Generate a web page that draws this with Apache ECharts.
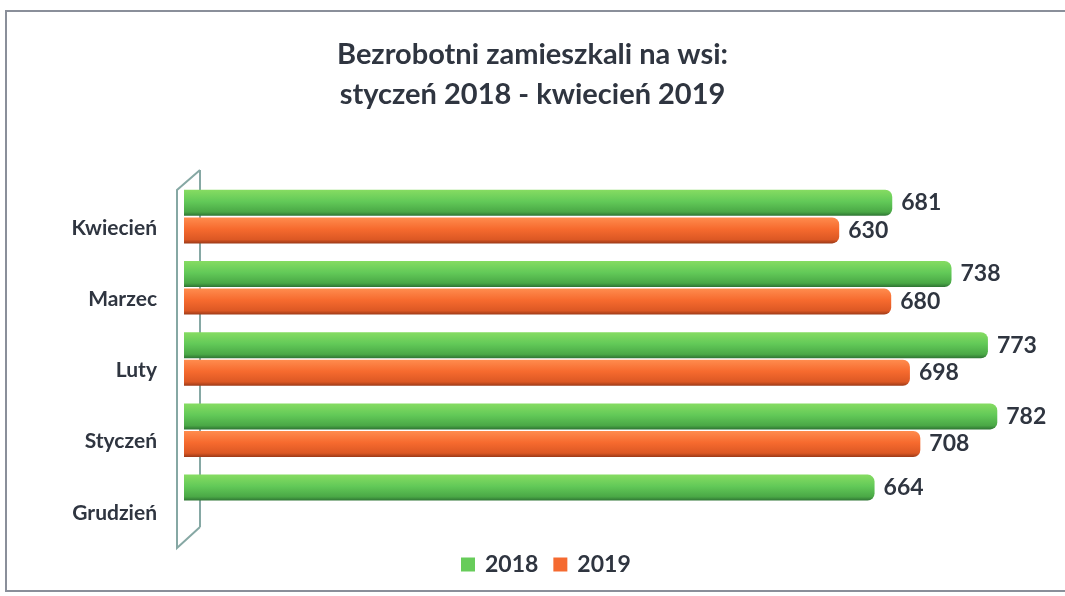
<!DOCTYPE html>
<html>
<head>
<meta charset="utf-8">
<script src="https://cdn.jsdelivr.net/npm/echarts@6/dist/echarts.min.js"></script>
<style>
  html, body { margin: 0; padding: 0; background: #fff; }
  #main { width: 1065px; height: 596px; }
</style>
</head>
<body>
<div id="main"></div>
<script>
// dane z wykresu
const months = ['Kwiecień', 'Marzec', 'Luty', 'Styczeń', 'Grudzień'];
const v2018 = [681, 738, 773, 782, 664];
const v2019 = [630, 680, 698, 708, null];
const seriesNames = ['2018', '2019'];

const chart = echarts.init(document.getElementById('main'));

// cylinder look
function tube(light, mid, dark, edge) {
  return new echarts.graphic.LinearGradient(0, 0, 0, 1, [
    { offset: 0, color: light },
    { offset: 0.45, color: mid },
    { offset: 0.85, color: dark },
    { offset: 1, color: edge }
  ]);
}

const labelStyle = {
  show: true,
  position: 'right',
  distance: 9,
  fontFamily: 'Lato',
  fontWeight: 'bold',
  fontSize: 23,
  color: '#2f3540'
};

const option = {
  backgroundColor: '#fff',
  title: {
    text: 'Bezrobotni zamieszkali na wsi:\nstyczeń 2018 - kwiecień 2019',
    left: 'center',
    top: 30,
    textStyle: {
      fontFamily: 'Lato',
      fontWeight: 'bold',
      fontSize: 29,
      lineHeight: 40,
      color: '#2f3540'
    }
  },
  legend: {
    top: 548,
    left: 456,
    icon: 'rect',
    itemWidth: 14,
    itemHeight: 14,
    itemGap: 15,
    textStyle: { fontFamily: 'Lato', fontWeight: 'bold', fontSize: 23, color: '#2f3540', padding: [0, 0, 0, 5] },
    data: [
      { name: seriesNames[0], itemStyle: { color: '#67cc5a' } },
      { name: seriesNames[1], itemStyle: { color: '#f56a30' } }
    ]
  },
  grid: { left: 184, top: 181, width: 832, height: 356 },
  xAxis: {
    type: 'value',
    min: 0,
    max: 800,
    show: false
  },
  yAxis: {
    type: 'category',
    inverse: true,
    data: months,
    axisLine: { show: false },
    axisTick: { show: false },
    axisLabel: {
      margin: 27,
      formatter: function (v) { return '\n' + v; },
      lineHeight: 23,
      fontFamily: 'Lato',
      fontWeight: 'bold',
      fontSize: 21,
      color: '#2f3540'
    }
  },
  graphic: [
    { type: 'polyline', z: 0, shape: { points: [[1100, 11], [6, 11], [6, 591], [1100, 591]] },
      style: { fill: 'none', stroke: '#8a8f9a', lineWidth: 2 } },
    { type: 'polyline', z: 0, shape: { points: [[200, 170], [177, 190], [177, 548], [200, 527]] },
      style: { fill: 'none', stroke: '#86a8a4', lineWidth: 2 } },
    { type: 'line', z: 0, shape: { x1: 200, y1: 170, x2: 200, y2: 527 },
      style: { stroke: '#86a8a4', lineWidth: 2 } }
  ],
  series: [
    {
      name: seriesNames[0],
      type: 'bar',
      data: v2018,
      barWidth: 26,
      barGap: '6%',
      itemStyle: {
        color: tube('#86dc62', '#62c958', '#4aa846', '#2e7433'),
        borderRadius: [0, 7, 7, 0]
      },
      label: labelStyle
    },
    {
      name: seriesNames[1],
      type: 'bar',
      data: v2019,
      barWidth: 26,
      itemStyle: {
        color: tube('#ff8c4e', '#f66a2e', '#dc5824', '#9c3a18'),
        borderRadius: [0, 7, 7, 0]
      },
      label: labelStyle
    }
  ]
};

chart.setOption(option);
</script>
</body>
</html>
